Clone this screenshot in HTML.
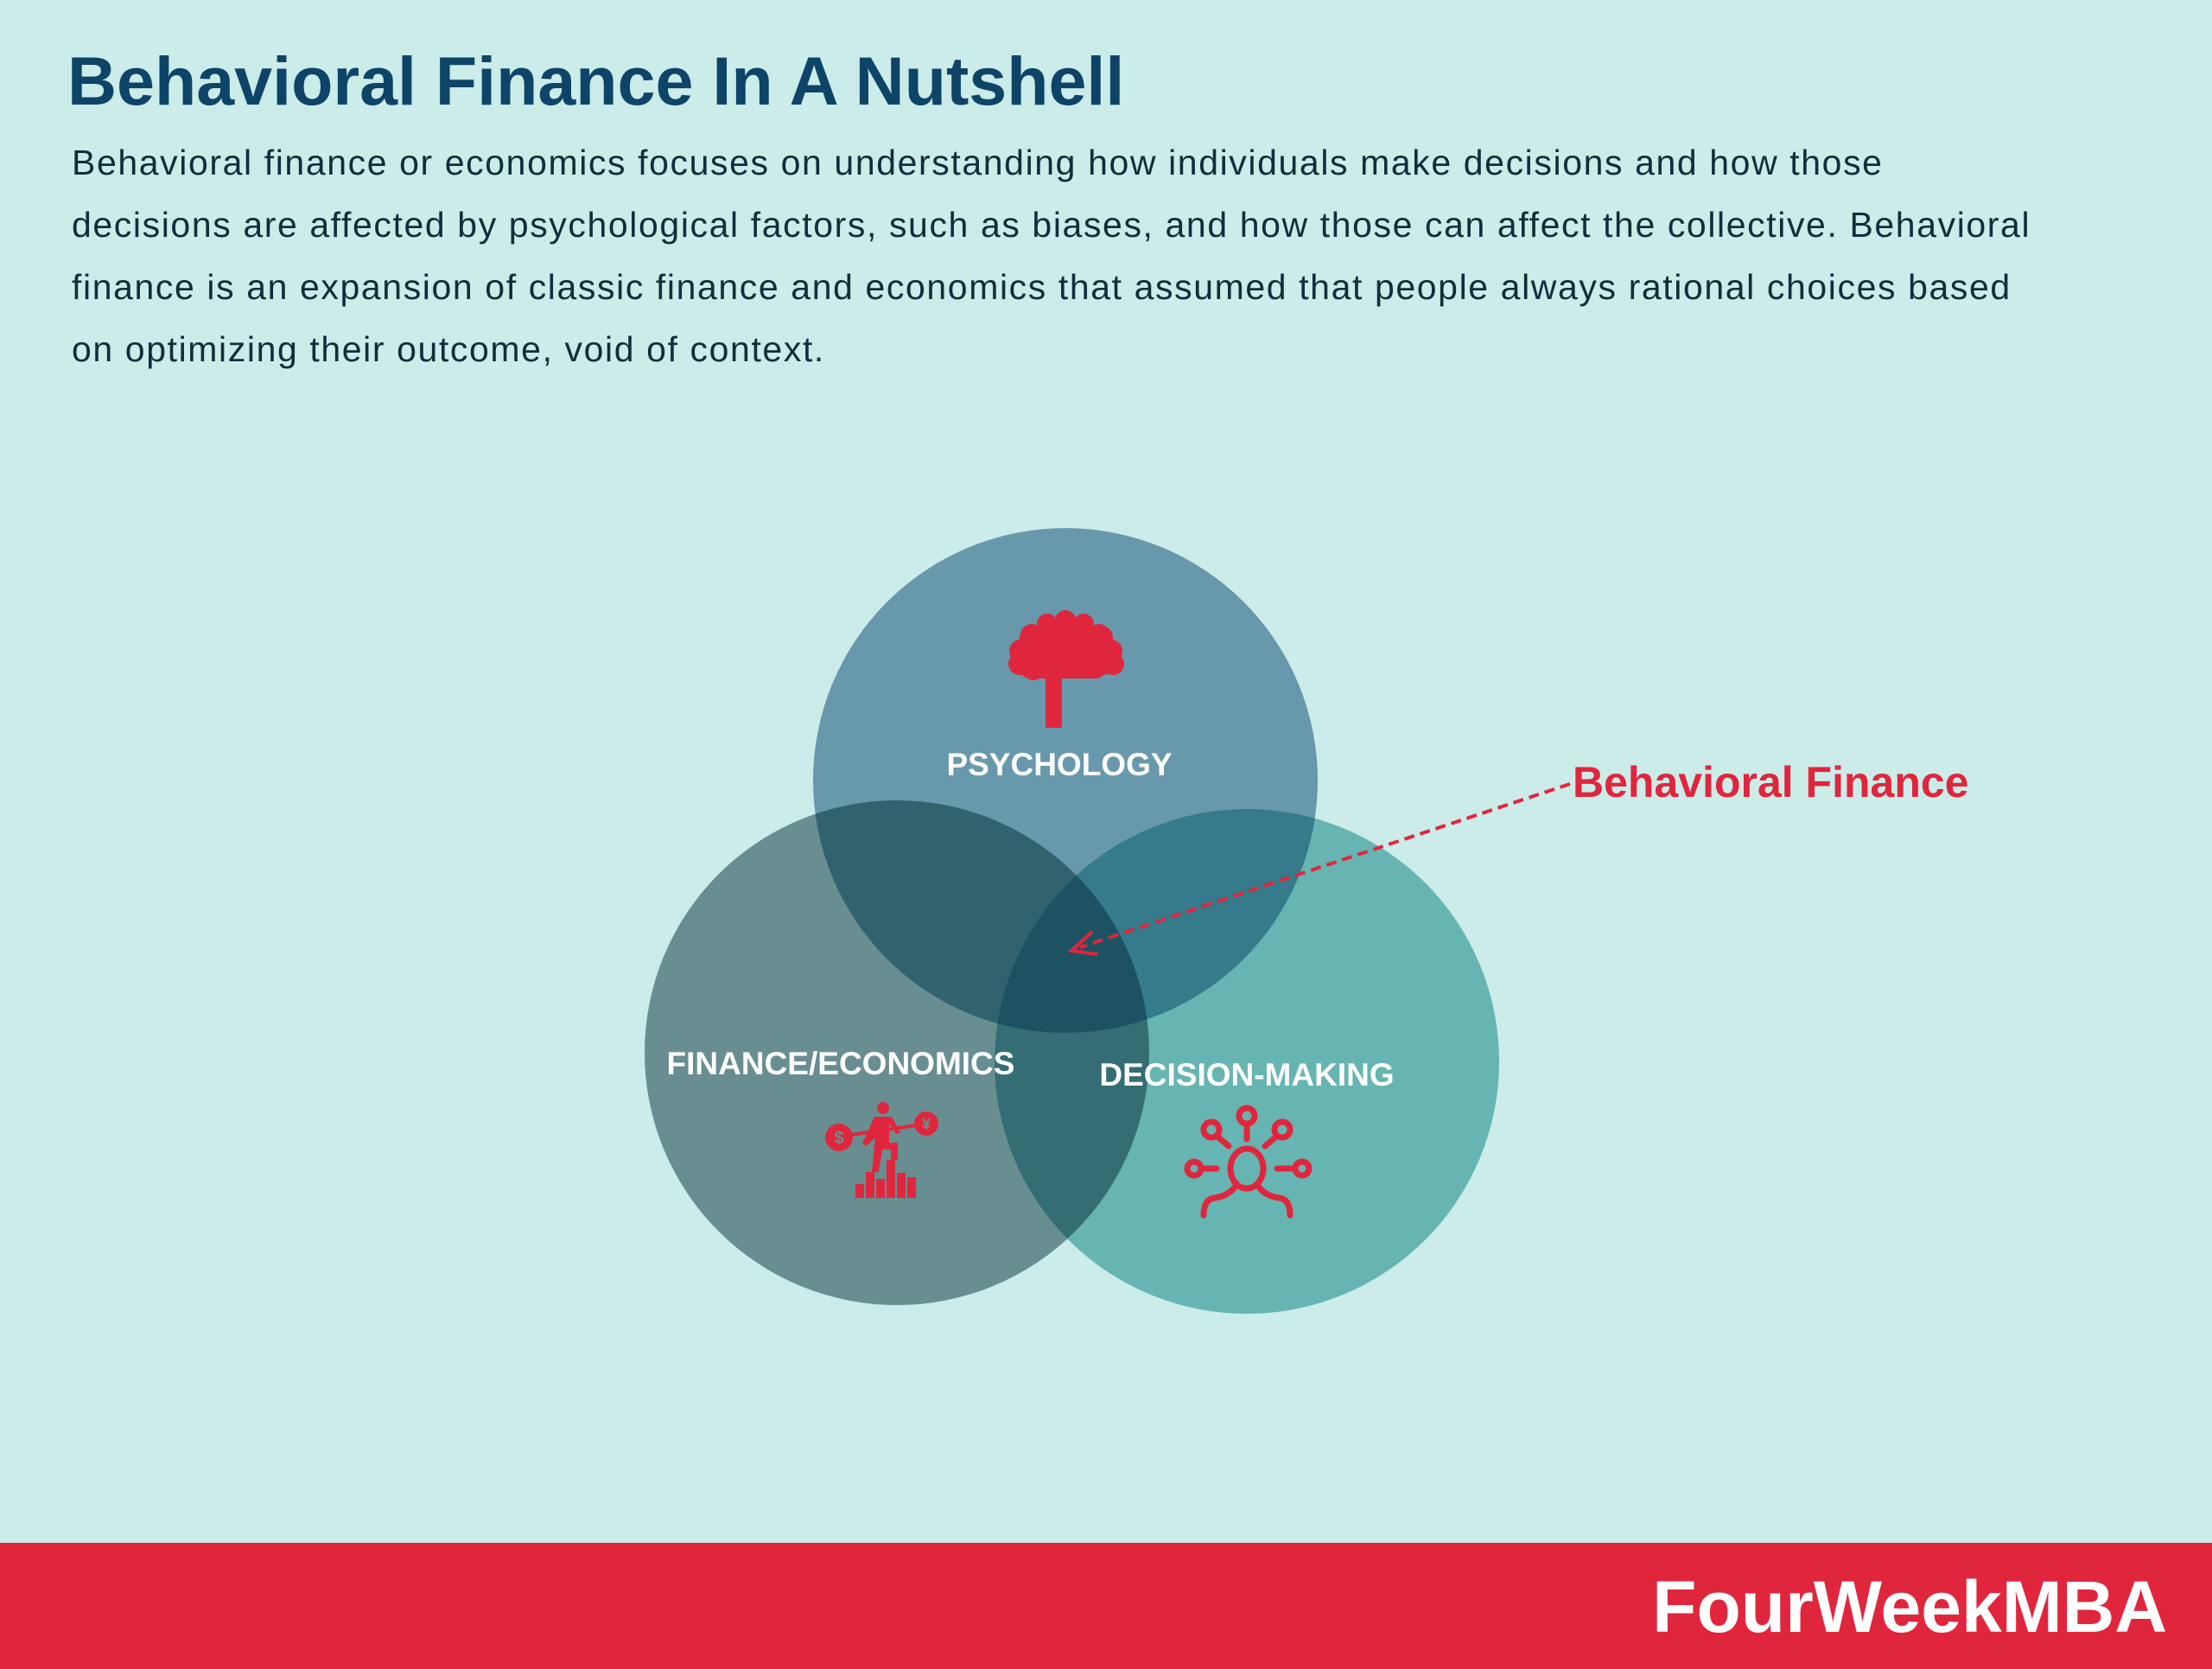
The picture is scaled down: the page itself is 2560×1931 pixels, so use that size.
<!DOCTYPE html>
<html><head><meta charset="utf-8"><style>
html,body{margin:0;padding:0}
body{width:2560px;height:1931px;background:#cbece8;position:relative;overflow:hidden;font-family:"Liberation Sans",sans-serif}
h1{position:absolute;left:78px;top:48px;margin:0;font-size:79px;font-weight:bold;color:#0d4468;white-space:nowrap}
p{position:absolute;left:83px;top:152px;margin:0;font-size:41px;line-height:72px;letter-spacing:1.6px;color:#0f2e3a;white-space:nowrap}
.foot{position:absolute;left:0;top:1785px;width:2560px;height:146px;background:#e0263d}
.foot span{position:absolute;right:52px;top:26px;font-size:84px;font-weight:bold;color:#fff}
svg{position:absolute;left:0;top:0}
</style></head><body>
<h1>Behavioral Finance In A Nutshell</h1>
<p>Behavioral finance or economics focuses on understanding how individuals make decisions and how those<br>decisions are affected by psychological factors, such as biases, and how those can affect the collective. Behavioral<br>finance is an expansion of classic finance and economics that assumed that people always rational choices based<br>on optimizing their outcome, void of context.</p>
<svg width="2560" height="1931" viewBox="0 0 2560 1931">
<defs>
<clipPath id="cp"><circle cx="1233" cy="903" r="292"/></clipPath>
<clipPath id="cf"><circle cx="1038" cy="1218" r="292"/></clipPath>
</defs>
<circle cx="1038" cy="1218" r="292" fill="#688e91"/>
<circle cx="1443" cy="1228" r="292" fill="#66b5b2"/>
<circle cx="1233" cy="903" r="292" fill="#6898ab"/>
<circle cx="1443" cy="1228" r="292" fill="#346e74" clip-path="url(#cf)"/>
<circle cx="1038" cy="1218" r="292" fill="#33626f" clip-path="url(#cp)"/>
<circle cx="1443" cy="1228" r="292" fill="#357b8b" clip-path="url(#cp)"/>
<g clip-path="url(#cf)"><circle cx="1443" cy="1228" r="292" fill="#1d5263" clip-path="url(#cp)"/></g>
<g fill="#e0263d">
<circle cx="1233" cy="718" r="12"/><circle cx="1212" cy="722" r="12"/><circle cx="1254" cy="722" r="12"/>
<circle cx="1194" cy="735" r="13"/><circle cx="1272" cy="735" r="13"/>
<circle cx="1181" cy="753" r="13"/><circle cx="1286" cy="753" r="13"/>
<circle cx="1180" cy="768" r="13"/><circle cx="1288" cy="768" r="13"/>
<rect x="1180" y="725" width="108" height="56" rx="12"/>
<circle cx="1196" cy="775" r="12"/>
<rect x="1180" y="760" width="100" height="25" rx="12"/>
<rect x="1210" y="780" width="19" height="62"/>
</g>
<g fill="#e0263d" stroke="#e0263d">
<circle cx="971" cy="1316" r="16" stroke="none"/><circle cx="1072" cy="1300" r="14" stroke="none"/>
<line x1="985" y1="1313" x2="1060" y2="1302" stroke-width="4"/>
<circle cx="1022" cy="1282" r="7" stroke="none"/>
<path d="M1012 1292h20l10 18-5 2-8-12v22h10v20h-8v-12h-10l-4 26h-8l4-40-10 10-5-3z" stroke="none"/>
<rect x="990" y="1370" width="10" height="16" stroke="none"/><rect x="1002" y="1356" width="10" height="30" stroke="none"/>
<rect x="1014" y="1364" width="10" height="22" stroke="none"/><rect x="1026" y="1342" width="10" height="44" stroke="none"/>
<rect x="1038" y="1357" width="10" height="29" stroke="none"/><rect x="1050" y="1362" width="10" height="24" stroke="none"/>
</g>
<text x="971" y="1323" font-size="20" font-weight="bold" fill="#688e91" text-anchor="middle">$</text>
<text x="1072" y="1307" font-size="18" font-weight="bold" fill="#688e91" text-anchor="middle">¥</text>
<g fill="none" stroke="#e0263d" stroke-width="7" stroke-linecap="round">
<ellipse cx="1443" cy="1352" rx="19" ry="23"/>
<path d="M1430 1372q-8 12-25 14q-12 2-12 20M1456 1372q8 12 25 14q12 2 12 20"/>
<circle cx="1443" cy="1291" r="9"/><line x1="1443" y1="1300" x2="1443" y2="1318"/>
<circle cx="1402" cy="1307" r="9"/><line x1="1409" y1="1315" x2="1422" y2="1326"/>
<circle cx="1484" cy="1307" r="9"/><line x1="1477" y1="1315" x2="1464" y2="1326"/>
<circle cx="1382" cy="1352" r="8"/><line x1="1391" y1="1352" x2="1408" y2="1352"/>
<circle cx="1507" cy="1352" r="8"/><line x1="1498" y1="1352" x2="1478" y2="1352"/>
</g>
<g font-weight="bold" fill="#fff" text-anchor="middle" font-size="37">
<text x="1226" y="897">PSYCHOLOGY</text>
<text x="973" y="1243">FINANCE/ECONOMICS</text>
<text x="1443" y="1256">DECISION-MAKING</text>
</g>
<line x1="1817" y1="907" x2="1250" y2="1096" stroke="#e0263d" stroke-width="4" stroke-dasharray="12,7"/>
<path d="M1264 1078 L1240 1100 L1270 1104" fill="none" stroke="#e0263d" stroke-width="4"/>
<text x="1820" y="922" font-size="50" font-weight="bold" fill="#e0263d">Behavioral Finance</text>
</svg>
<div class="foot"><span>FourWeekMBA</span></div>
</body></html>
